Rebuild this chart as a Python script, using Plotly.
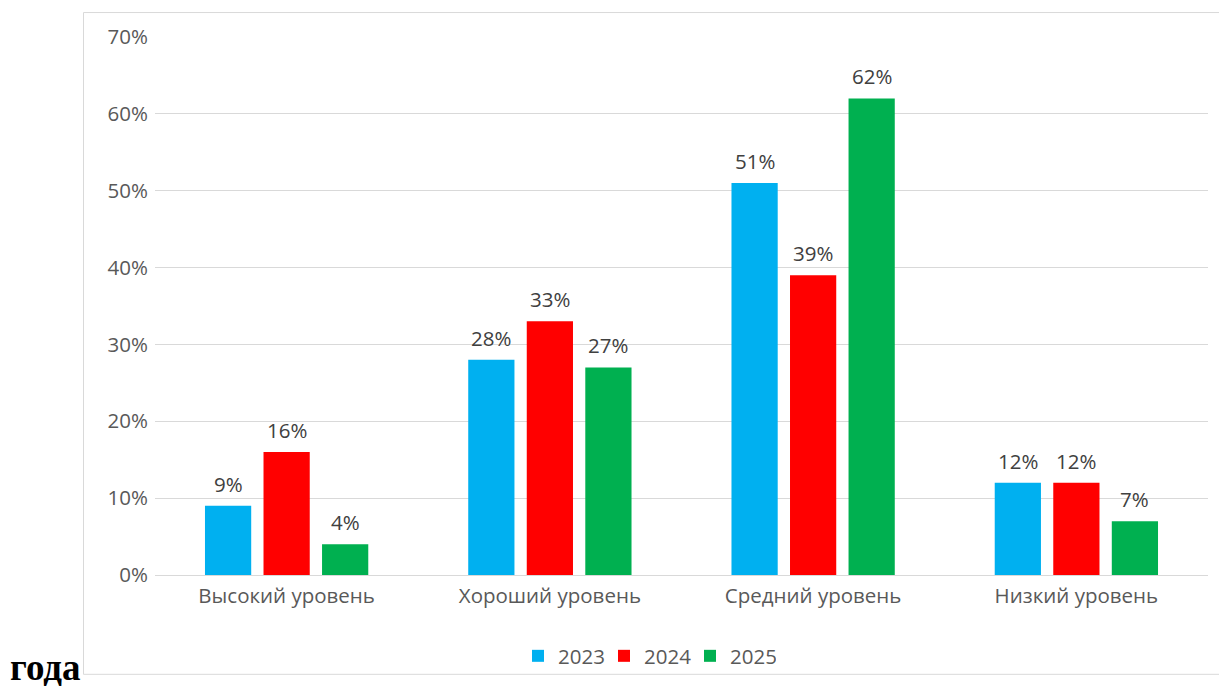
import plotly.graph_objects as go

categories = ["Высокий уровень", "Хороший уровень", "Средний уровень", "Низкий уровень"]
years = ["2023", "2024", "2025"]
values_2023 = [0.09, 0.28, 0.51, 0.12]
values_2024 = [0.16, 0.33, 0.39, 0.12]
values_2025 = [0.04, 0.27, 0.62, 0.07]
colors = ["#00B0F0", "#FF0000", "#00B050"]

W, H = 1219, 686
L, R, T, B = 155, 11, 37, 110
pw, ph = W - L - R, H - T - B
BARGAP, GROUPGAP = 0.333, 0.21
FS = 20.5

fig = go.Figure()
series = [values_2023, values_2024, values_2025]
for name, vals, c in zip(years, series, colors):
    fig.add_trace(go.Bar(
        x=categories, y=vals, name=name, marker_color=c, marker_line_width=0,
    ))

slot = pw / len(categories) * (1 - BARGAP) / len(years)
annotations = []
for i, vals in enumerate(series):
    for cat, v in zip(categories, vals):
        annotations.append(dict(
            x=cat, y=v, xref="x", yref="y", text=f"{round(v*100)}%", showarrow=False,
            xanchor="center", yanchor="bottom", xshift=(i - 1) * slot, yshift=6,
            font=dict(family="Open Sans", size=FS, color="#404040"),
        ))

def px_x(p):
    return (p - L) / pw

def px_y(p):
    return (H - B - p) / ph

annotations.append(dict(text="<b>года</b>", xref="paper", yref="paper", x=px_x(8), y=px_y(691),
                        xanchor="left", yanchor="bottom", showarrow=False,
                        font=dict(family="Liberation Serif", size=37, color="black")))

fig.update_layout(
    width=W, height=H,
    margin=dict(l=L, r=R, t=T, b=B),
    paper_bgcolor="white", plot_bgcolor="white",
    barmode="group", bargap=BARGAP, bargroupgap=GROUPGAP,
    font=dict(family="Open Sans", size=FS, color="#595959"),
    xaxis=dict(showgrid=False, showline=False, ticks="", ticklabelstandoff=6,
               tickfont=dict(size=FS, color="#595959")),
    yaxis=dict(range=[0, 0.7], dtick=0.1, tickformat=".0%", showgrid=True, gridcolor="#D9D9D9",
               gridwidth=1, zeroline=True, zerolinecolor="#D9D9D9", zerolinewidth=1,
               showline=False, ticks="", ticklabelstandoff=6, tickfont=dict(size=FS, color="#595959")),
    legend=dict(orientation="h", x=px_x(647), xanchor="center", y=px_y(656), yanchor="middle",
                font=dict(size=FS, color="#595959"), itemwidth=30, traceorder="normal",
                bgcolor="rgba(0,0,0,0)", entrywidth=41),
    shapes=[dict(type="rect", xref="paper", yref="paper",
                 x0=px_x(83.5), x1=px_x(1230), y0=px_y(675.5), y1=px_y(12.5),
                 line=dict(color="#D9D9D9", width=1), layer="below")],
    annotations=annotations,
)
fig.write_html("out.html", config={"displayModeBar": False},
               post_script="document.body.style.margin='0';")
